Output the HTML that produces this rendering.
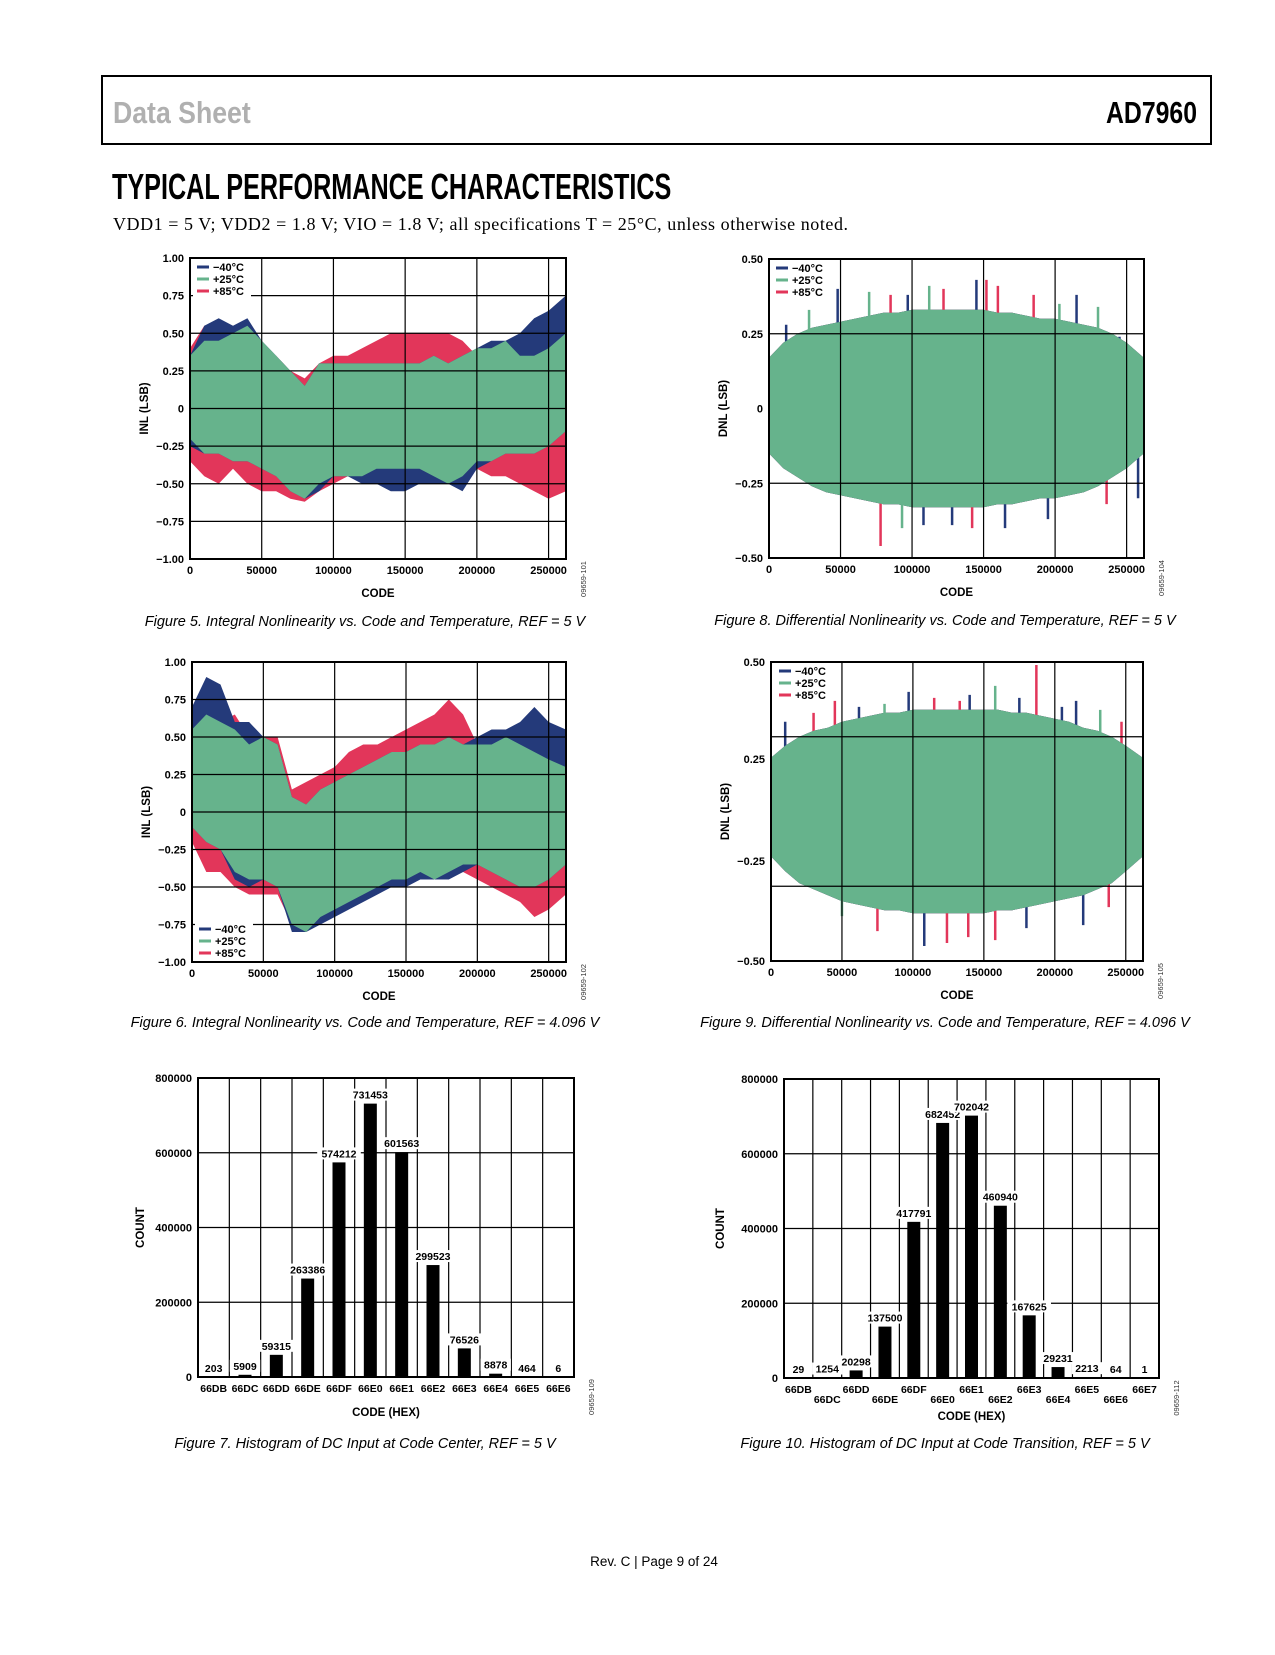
<!DOCTYPE html>
<html><head><meta charset="utf-8">
<style>
html,body{margin:0;padding:0;background:#fff;}
body{width:1275px;height:1650px;position:relative;overflow:hidden;font-family:"Liberation Sans",sans-serif;}
svg text{font-family:"Liberation Sans",sans-serif;}
</style></head>
<body>
<svg id="page" width="1275" height="1650" viewBox="0 0 1275 1650" xmlns="http://www.w3.org/2000/svg">
<rect x="102" y="76" width="1109" height="68" fill="none" stroke="#000" stroke-width="2"/>
<text x="113" y="123" font-size="31" font-weight="bold" fill="#b0b0b0" transform="translate(113 0) scale(0.86 1) translate(-113 0)" style="font-family:'Liberation Sans Narrow','Liberation Sans',sans-serif">Data Sheet</text>
<text x="1197" y="123" font-size="31" font-weight="bold" fill="#000" text-anchor="end" transform="translate(1197 0) scale(0.8 1) translate(-1197 0)" style="font-family:'Liberation Sans Narrow','Liberation Sans',sans-serif">AD7960</text>
<text x="112" y="199" font-size="36" font-weight="bold" fill="#000" transform="translate(112 0) scale(0.7 1) translate(-112 0)" style="font-family:'Liberation Sans Narrow','Liberation Sans',sans-serif">TYPICAL PERFORMANCE CHARACTERISTICS</text>
<text x="113" y="230" font-size="18" fill="#000" style="font-family:'Liberation Serif',serif" textLength="735">VDD1 = 5 V; VDD2 = 1.8 V; VIO = 1.8 V; all specifications T = 25°C, unless otherwise noted.</text>
<text x="365" y="626" font-size="14.5" font-style="italic" text-anchor="middle">Figure 5. Integral Nonlinearity vs. Code and Temperature, REF = 5 V</text>
<text x="945" y="625" font-size="14.5" font-style="italic" text-anchor="middle">Figure 8. Differential Nonlinearity vs. Code and Temperature, REF = 5 V</text>
<text x="365" y="1027" font-size="14.5" font-style="italic" text-anchor="middle">Figure 6. Integral Nonlinearity vs. Code and Temperature, REF = 4.096 V</text>
<text x="945" y="1027" font-size="14.5" font-style="italic" text-anchor="middle">Figure 9. Differential Nonlinearity vs. Code and Temperature, REF = 4.096 V</text>
<text x="365" y="1448" font-size="14.5" font-style="italic" text-anchor="middle">Figure 7. Histogram of DC Input at Code Center, REF = 5 V</text>
<text x="945" y="1448" font-size="14.5" font-style="italic" text-anchor="middle">Figure 10. Histogram of DC Input at Code Transition, REF = 5 V</text>
<text x="654" y="1566" font-size="13.5" text-anchor="middle">Rev. C | Page 9 of 24</text>
<g id="charts"></g>
</svg>
<script>
const codes = [0,10000,20000,30000,40000,50000,60000,70000,80000,90000,100000,110000,120000,130000,140000,150000,160000,170000,180000,190000,200000,210000,220000,230000,240000,250000,262000];
const xTicks = [0,50000,100000,150000,200000,250000];
const xTickLabels = ["0","50000","100000","150000","200000","250000"];
const legendLabels = ["\u221240\u00b0C","+25\u00b0C","+85\u00b0C"];
// ===== Figure 5 INL REF=5V =====
const f5GreenUp = [0.35,0.45,0.45,0.5,0.55,0.45,0.35,0.25,0.15,0.3,0.3,0.3,0.3,0.3,0.3,0.3,0.3,0.35,0.3,0.35,0.4,0.4,0.45,0.35,0.35,0.4,0.5];
const f5GreenLo = [-0.2,-0.3,-0.3,-0.35,-0.35,-0.4,-0.45,-0.55,-0.6,-0.5,-0.45,-0.45,-0.45,-0.4,-0.4,-0.4,-0.4,-0.45,-0.5,-0.45,-0.35,-0.35,-0.3,-0.3,-0.3,-0.25,-0.15];
const f5BlueUp = [0.35,0.55,0.6,0.55,0.6,0.45,0.35,0.25,0.15,0.3,0.3,0.3,0.3,0.3,0.3,0.3,0.3,0.35,0.3,0.35,0.4,0.45,0.45,0.5,0.6,0.65,0.75];
const f5BlueLo = [-0.25,-0.3,-0.3,-0.35,-0.35,-0.4,-0.45,-0.55,-0.6,-0.55,-0.45,-0.45,-0.5,-0.5,-0.55,-0.55,-0.5,-0.5,-0.5,-0.55,-0.4,-0.35,-0.3,-0.3,-0.3,-0.25,-0.15];
const f5RedUp = [0.4,0.55,0.55,0.5,0.45,0.4,0.35,0.25,0.2,0.3,0.35,0.35,0.4,0.45,0.5,0.5,0.5,0.5,0.5,0.45,0.35,0.4,0.4,0.35,0.3,0.35,0.3];
const f5RedLo = [-0.35,-0.45,-0.5,-0.4,-0.5,-0.55,-0.55,-0.6,-0.62,-0.55,-0.5,-0.45,-0.4,-0.4,-0.4,-0.4,-0.4,-0.4,-0.4,-0.4,-0.4,-0.45,-0.45,-0.5,-0.55,-0.6,-0.55];
// ===== Figure 6 INL REF=4.096V =====
const f6GreenUp = [0.55,0.65,0.6,0.55,0.45,0.5,0.45,0.1,0.05,0.15,0.2,0.25,0.3,0.35,0.4,0.4,0.45,0.45,0.5,0.45,0.45,0.45,0.5,0.45,0.4,0.35,0.3];
const f6GreenLo = [-0.1,-0.2,-0.25,-0.4,-0.45,-0.45,-0.5,-0.75,-0.8,-0.7,-0.65,-0.6,-0.55,-0.5,-0.45,-0.45,-0.4,-0.45,-0.4,-0.35,-0.35,-0.4,-0.45,-0.5,-0.5,-0.45,-0.35];
const f6BlueUp = [0.7,0.9,0.85,0.6,0.6,0.5,0.45,0.1,0.05,0.15,0.2,0.25,0.3,0.35,0.4,0.4,0.45,0.45,0.5,0.45,0.5,0.55,0.55,0.6,0.7,0.6,0.55];
const f6BlueLo = [-0.1,-0.2,-0.25,-0.45,-0.5,-0.45,-0.5,-0.8,-0.8,-0.75,-0.7,-0.65,-0.6,-0.55,-0.5,-0.5,-0.45,-0.45,-0.45,-0.4,-0.35,-0.4,-0.45,-0.5,-0.5,-0.45,-0.35];
const f6RedUp = [0.5,0.6,0.6,0.65,0.5,0.5,0.5,0.15,0.2,0.25,0.3,0.4,0.45,0.45,0.5,0.55,0.6,0.65,0.75,0.65,0.45,0.45,0.5,0.45,0.35,0.35,0.3];
const f6RedLo = [-0.2,-0.4,-0.4,-0.5,-0.55,-0.55,-0.55,-0.75,-0.8,-0.7,-0.65,-0.6,-0.5,-0.45,-0.45,-0.4,-0.4,-0.45,-0.4,-0.4,-0.45,-0.5,-0.55,-0.6,-0.7,-0.65,-0.55];
// ===== Figure 8 DNL REF=5V =====
const f8GreenUp = [0.17,0.22,0.25,0.27,0.28,0.29,0.3,0.31,0.32,0.32,0.33,0.33,0.33,0.33,0.33,0.33,0.32,0.32,0.31,0.3,0.3,0.29,0.28,0.27,0.25,0.22,0.17];
const f8GreenLo = [-0.15,-0.2,-0.23,-0.26,-0.28,-0.29,-0.3,-0.31,-0.32,-0.32,-0.33,-0.33,-0.33,-0.33,-0.33,-0.33,-0.32,-0.32,-0.31,-0.3,-0.3,-0.29,-0.28,-0.26,-0.23,-0.2,-0.15];
const f8SpikeCodes = [12000,28000,48000,70000,85000,97000,112000,122000,145000,152000,160000,185000,203000,215000,230000,245000,78000,93000,108000,128000,142000,165000,195000,236000,258000];
const f8SpikeVals = [0.28,0.33,0.4,0.39,0.38,0.38,0.41,0.4,0.43,0.43,0.41,0.38,0.35,0.38,0.34,0.24,-0.46,-0.4,-0.39,-0.39,-0.4,-0.4,-0.37,-0.32,-0.3];
const f8SpikeSeries = [0,1,0,1,2,0,1,2,0,2,2,2,1,0,1,0,2,1,0,0,2,0,0,2,0];
// ===== Figure 9 DNL REF=4.096V =====
const f9GreenUp = [0.18,0.22,0.25,0.27,0.28,0.3,0.31,0.32,0.33,0.33,0.34,0.34,0.34,0.34,0.34,0.34,0.34,0.33,0.33,0.32,0.31,0.3,0.28,0.27,0.25,0.22,0.18];
const f9GreenLo = [-0.15,-0.2,-0.24,-0.26,-0.28,-0.3,-0.31,-0.32,-0.33,-0.33,-0.34,-0.34,-0.34,-0.34,-0.34,-0.34,-0.33,-0.33,-0.32,-0.31,-0.3,-0.29,-0.28,-0.26,-0.24,-0.2,-0.15];
const f9SpikeCodes = [10000,30000,45000,62000,80000,97000,115000,133000,140000,158000,175000,187000,205000,215000,232000,247000,50000,75000,108000,124000,139000,158000,180000,220000,238000];
const f9SpikeVals = [0.3,0.33,0.37,0.35,0.36,0.4,0.38,0.37,0.39,0.42,0.38,0.49,0.35,0.37,0.34,0.3,-0.35,-0.4,-0.45,-0.44,-0.42,-0.43,-0.39,-0.38,-0.32];
const f9SpikeSeries = [0,2,2,0,1,0,2,2,0,1,0,2,0,0,1,2,1,2,0,2,2,2,0,0,2];
// ===== Histograms =====
const h7Codes = ["66DB","66DC","66DD","66DE","66DF","66E0","66E1","66E2","66E3","66E4","66E5","66E6"];
const h7Counts = [203,5909,59315,263386,574212,731453,601563,299523,76526,8878,464,6];
const h10Codes = ["66DB","66DC","66DD","66DE","66DF","66E0","66E1","66E2","66E3","66E4","66E5","66E6","66E7"];
const h10Counts = [29,1254,20298,137500,417791,682452,702042,460940,167625,29231,2213,64,1];
const countTicks = [0,200000,400000,600000,800000];

const NS = "http://www.w3.org/2000/svg";
const root = document.getElementById('charts');
const COLORS = ["#243a7a","#66b38c","#e2365a"];
function mk(tag, attrs, parent, txt){
  const e = document.createElementNS(NS, tag);
  for (const k in attrs) e.setAttribute(k, attrs[k]);
  if (txt !== undefined) e.textContent = txt;
  (parent||root).appendChild(e);
  return e;
}
function lineChart(c){
  const g = mk('g', {});
  
  
  const X = v => c.x0 + v / 262144 * (c.x1 - c.x0);
  const Y = v => c.y1 - (v - c.ymin) / (c.ymax - c.ymin) * (c.y1 - c.y0);
  function band(s, ci, nm){
    let pts = [];
    codes.forEach((cd, i) => pts.push(X(cd).toFixed(1)+','+Y(s[0][i]).toFixed(1)));
    for (let i = codes.length-1; i >= 0; i--) pts.push(X(codes[i]).toFixed(1)+','+Y(s[1][i]).toFixed(1));
    const p = mk('polygon', {points: pts.join(' '), fill: COLORS[ci]}, g);
    
    
  }
  band(c.red, 2, 'band-85c');
  band(c.blue, 0, 'band-minus40c');
  if (c.spikes){
    c.spikes.codes.forEach((cd, i) => {
      const v = c.spikes.vals[i];
      const base = 0;
      const l = mk('line', {x1: X(cd), x2: X(cd), y1: Y(base), y2: Y(v), stroke: COLORS[c.spikes.series[i]], 'stroke-width': 2.5}, g);
      
      
    });
  }
  band(c.green, 1, 'band-25c');
  xTicks.slice(1).forEach(t => {
    const l = mk('line', {x1: X(t), x2: X(t), y1: c.y0, y2: c.y1, stroke: '#000', 'stroke-width': 1.2}, g);
    
    
  });
  c.grid.forEach(v => {
    const l = mk('line', {x1: c.x0, x2: c.x1, y1: Y(v), y2: Y(v), stroke: '#000', 'stroke-width': 1.2}, g);
    
    
  });
  const lg = mk('g', {}, g);
  
  
  if (c.legendBg) mk('rect', {x: c.lx - 4, y: c.ly - 11, width: 58, height: 38, fill: '#fff'}, lg);
  legendLabels.forEach((t, i) => {
    mk('line', {x1: c.lx, x2: c.lx + 12, y1: c.ly + i*12 - 4, y2: c.ly + i*12 - 4, stroke: COLORS[i], 'stroke-width': 3}, lg);
    const tx = mk('text', {x: c.lx + 16, y: c.ly + i*12, 'font-size': 11, 'font-weight': 'bold'}, lg, t);
    
    
  });
  mk('rect', {x: c.x0, y: c.y0, width: c.x1 - c.x0, height: c.y1 - c.y0, fill: 'none', stroke: '#000', 'stroke-width': 2}, g);
  c.yLabelVals.forEach((v, i) => {
    const t = mk('text', {x: c.x0 - 6, y: Y(v) + 4, 'font-size': 11, 'font-weight': 'bold', 'text-anchor': 'end'}, g, c.yLabels[i]);
    
    
  });
  xTicks.forEach((v, i) => {
    const t = mk('text', {x: X(v), y: c.y1 + 15, 'font-size': 11, 'font-weight': 'bold', 'text-anchor': 'middle'}, g, xTickLabels[i]);
    
    
  });
  const xt = mk('text', {x: (c.x0 + c.x1)/2, y: c.y1 + 38, 'font-size': 11.5, 'font-weight': 'bold', 'text-anchor': 'middle'}, g, 'CODE');
  
  
  const cy = (c.y0 + c.y1)/2;
  const yt = mk('text', {x: c.x0 - 42, y: cy, 'font-size': 11.5, 'font-weight': 'bold', 'text-anchor': 'middle', transform: 'rotate(-90 '+(c.x0-42)+' '+cy+')'}, g, c.ytitle);
  
  
  const idx = c.x1 + 20, idy = c.y1 + 20;
  const it = mk('text', {x: idx, y: idy, 'font-size': 7.5, fill: '#333', 'text-anchor': 'middle', transform: 'rotate(-90 '+idx+' '+idy+')'}, g, c.id);
  
  
}
const inlLabels = ["1.00","0.75","0.50","0.25","0","\u22120.25","\u22120.50","\u22120.75","\u22121.00"];
const inlVals = [1,0.75,0.5,0.25,0,-0.25,-0.5,-0.75,-1];
lineChart({name:'fig5-inl-5v', x0:190, x1:566, y0:258, y1:559, ymin:-1, ymax:1, grid:[0.75,0.5,0.25,0,-0.25,-0.5,-0.75],
  green:[f5GreenUp,f5GreenLo], blue:[f5BlueUp,f5BlueLo], red:[f5RedUp,f5RedLo],
  yLabels: inlLabels, yLabelVals: inlVals, ytitle:'INL (LSB)', lx:197, ly:271, legendBg:true, id:'09659-101'});
lineChart({name:'fig6-inl-4096v', x0:192, x1:566, y0:662, y1:962, ymin:-1, ymax:1, grid:[0.75,0.5,0.25,0,-0.25,-0.5,-0.75],
  green:[f6GreenUp,f6GreenLo], blue:[f6BlueUp,f6BlueLo], red:[f6RedUp,f6RedLo],
  yLabels: inlLabels, yLabelVals: inlVals, ytitle:'INL (LSB)', lx:199, ly:933, legendBg:true, id:'09659-102'});
lineChart({name:'fig8-dnl-5v', x0:769, x1:1144, y0:259, y1:558, ymin:-0.5, ymax:0.5, grid:[0.25,-0.25],
  green:[f8GreenUp,f8GreenLo], blue:[f8GreenUp,f8GreenLo], red:[f8GreenUp,f8GreenLo],
  spikes:{codes:f8SpikeCodes, vals:f8SpikeVals, series:f8SpikeSeries},
  yLabels:["0.50","0.25","0","\u22120.25","\u22120.50"], yLabelVals:[0.5,0.25,0,-0.25,-0.5], ytitle:'DNL (LSB)', lx:776, ly:272, legendBg:false, id:'09659-104'});
lineChart({name:'fig9-dnl-4096v', x0:771, x1:1143, y0:662, y1:961, ymin:-0.5, ymax:0.5, grid:[0.25,-0.25],
  green:[f9GreenUp,f9GreenLo], blue:[f9GreenUp,f9GreenLo], red:[f9GreenUp,f9GreenLo],
  spikes:{codes:f9SpikeCodes, vals:f9SpikeVals, series:f9SpikeSeries},
  yLabels:["0.50","0.25","\u22120.25","\u22120.50"], yLabelVals:[0.5,0.175,-0.165,-0.5], ytitle:'DNL (LSB)', lx:779, ly:675, legendBg:false, id:'09659-105'});

function histChart(c){
  const g = mk('g', {});
  
  
  const n = c.cats.length, cw = (c.x1 - c.x0) / n;
  const Y = v => c.y1 - v / 800000 * (c.y1 - c.y0);
  countTicks.forEach(v => {
    const l = mk('line', {x1: c.x0, x2: c.x1, y1: Y(v), y2: Y(v), stroke: '#000', 'stroke-width': 1.2}, g);
    
    
    const t = mk('text', {x: c.x0 - 6, y: Y(v) + 4, 'font-size': 11, 'font-weight': 'bold', 'text-anchor': 'end'}, g, String(v));
    
    
  });
  for (let i = 1; i < n; i++){
    const l = mk('line', {x1: c.x0 + i*cw, x2: c.x0 + i*cw, y1: c.y0, y2: c.y1, stroke: '#000', 'stroke-width': 1.2}, g);
    
    
  }
  c.vals.forEach((v, i) => {
    const cx = c.x0 + (i + 0.5)*cw;
    const b = mk('rect', {x: cx - 6.5, y: Y(v), width: 13, height: c.y1 - Y(v), fill: '#000'}, g);
    
    
    const ty = Math.min(Y(v) - 5, c.y1 - 5);
    const s = String(v);
    mk('rect', {x: cx - s.length*3.3 - 2, y: ty - 10, width: s.length*6.6 + 4, height: 12, fill: '#fff'}, g);
    const t = mk('text', {x: cx, y: ty, 'font-size': 10.5, 'font-weight': 'bold', 'text-anchor': 'middle'}, g, s);
    
    
    const ly = c.y1 + 15 + (c.stagger && i % 2 === 1 ? 10 : 0);
    const xl = mk('text', {x: cx, y: ly, 'font-size': 10.5, 'font-weight': 'bold', 'text-anchor': 'middle'}, g, c.cats[i]);
    
    
  });
  mk('rect', {x: c.x0, y: c.y0, width: c.x1 - c.x0, height: c.y1 - c.y0, fill: 'none', stroke: '#000', 'stroke-width': 2}, g);
  const xt = mk('text', {x: (c.x0 + c.x1)/2, y: c.xtY, 'font-size': 11.5, 'font-weight': 'bold', 'text-anchor': 'middle'}, g, 'CODE (HEX)');
  
  
  const cy = (c.y0 + c.y1)/2;
  const yt = mk('text', {x: c.ytX, y: cy, 'font-size': 11.5, 'font-weight': 'bold', 'text-anchor': 'middle', transform: 'rotate(-90 '+c.ytX+' '+cy+')'}, g, 'COUNT');
  
  
  const idx = c.x1 + 20, idy = c.y1 + 20;
  const it = mk('text', {x: idx, y: idy, 'font-size': 7.5, fill: '#333', 'text-anchor': 'middle', transform: 'rotate(-90 '+idx+' '+idy+')'}, g, c.id);
  
  
}
histChart({name:'fig7-histogram-code-center', x0:198, x1:574, y0:1078, y1:1377, cats:h7Codes, vals:h7Counts, stagger:false, xtY:1416, ytX:144, id:'09659-109'});
histChart({name:'fig10-histogram-code-transition', x0:784, x1:1159, y0:1079, y1:1378, cats:h10Codes, vals:h10Counts, stagger:true, xtY:1420, ytX:724, id:'09659-112'});
</script>
</body></html>
